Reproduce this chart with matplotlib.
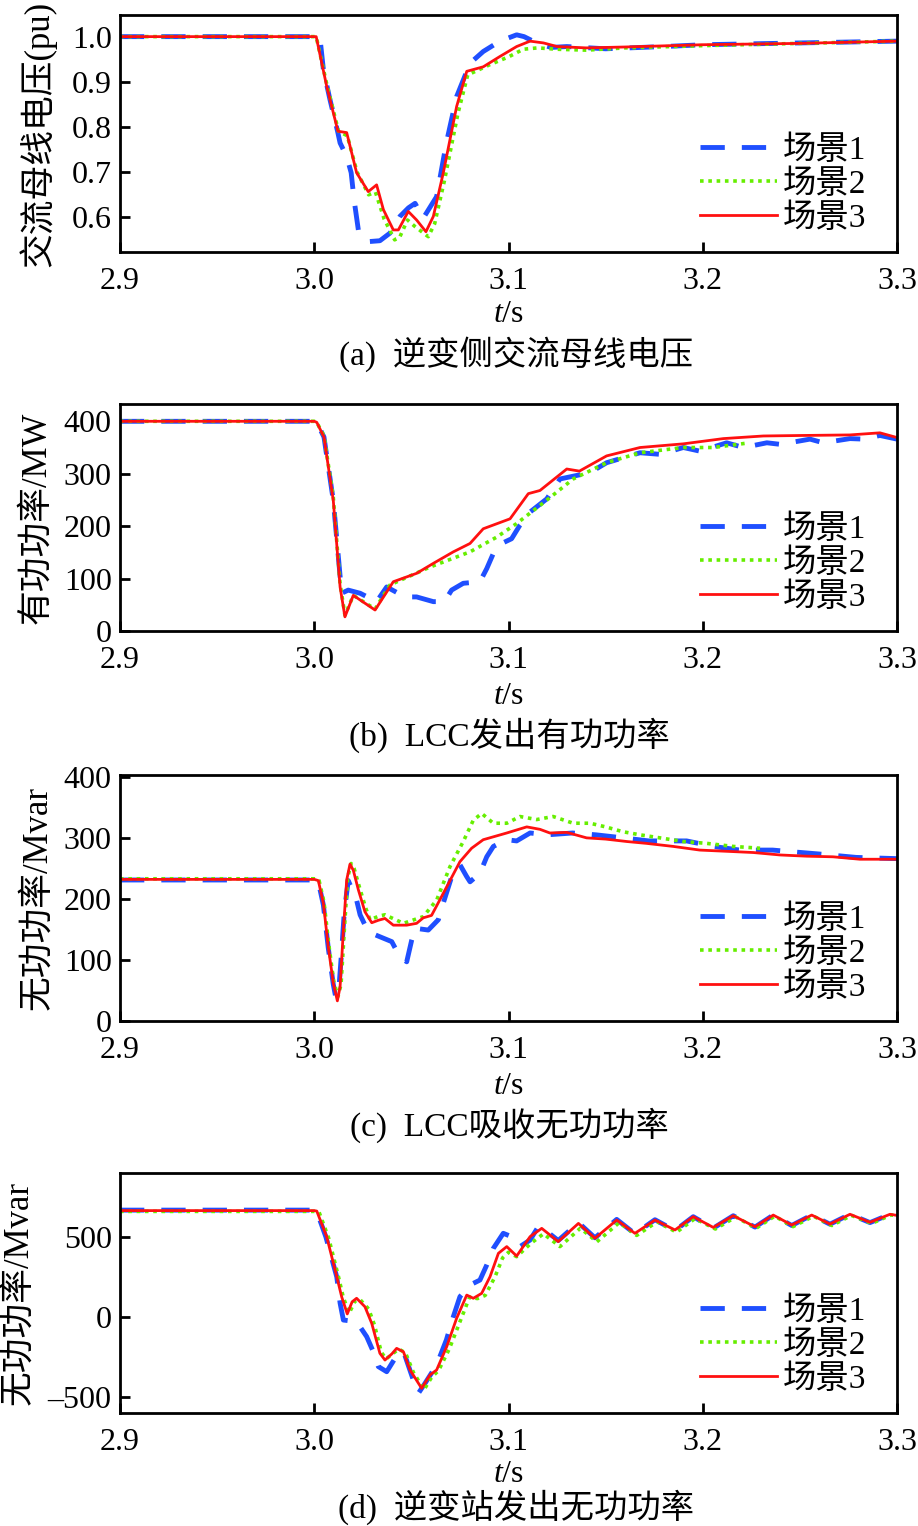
import matplotlib
matplotlib.use("Agg")
import matplotlib.pyplot as plt
from matplotlib.ticker import FormatStrFormatter, FuncFormatter

plt.rcParams['font.family'] = ['Liberation Serif', 'Noto Sans CJK SC']
plt.rcParams['mathtext.fontset'] = 'custom'
plt.rcParams['mathtext.it'] = 'Liberation Serif:italic'
plt.rcParams['mathtext.rm'] = 'Liberation Serif'

# ---- data (time in s) ----
labels = ['场景1', '场景2', '场景3']

# (a) AC bus voltage, pu
a_t1 = [2.9, 3.0, 3.003, 3.0047, 3.0081, 3.012, 3.0133, 3.0167, 3.019, 3.0205, 3.0227, 3.0278, 3.0338, 3.039,
        3.0441, 3.0485, 3.0519, 3.0561, 3.063, 3.068, 3.0733, 3.0802, 3.087, 3.0956, 3.1042, 3.108, 3.115,
        3.122, 3.13, 3.15, 3.18, 3.2, 3.25, 3.3]
a_v1 = [1.0, 1.0, 0.995, 0.927, 0.86, 0.79, 0.764, 0.734, 0.698, 0.638, 0.571, 0.545, 0.547, 0.564,
        0.601, 0.62, 0.630, 0.597, 0.645, 0.764, 0.867, 0.941, 0.967, 0.990, 1.004, 1.0, 0.985,
        0.976, 0.978, 0.973, 0.978, 0.982, 0.986, 0.99]
a_t2 = [2.9, 3.001, 3.0064, 3.009, 3.0125, 3.017, 3.022, 3.028, 3.0315, 3.036, 3.0414, 3.044, 3.048, 3.052,
        3.0587, 3.062, 3.067, 3.074, 3.079, 3.0905, 3.1, 3.1076, 3.115, 3.125, 3.14, 3.16, 3.2, 3.25, 3.3]
a_v2 = [1.0, 1.0, 0.895, 0.85, 0.79, 0.78, 0.70, 0.649, 0.655, 0.595, 0.549, 0.555, 0.593, 0.578,
        0.556, 0.585, 0.68, 0.83, 0.915, 0.938, 0.955, 0.972, 0.975, 0.972, 0.97, 0.975, 0.98, 0.985, 0.99]
a_t3 = [2.9, 3.001, 3.0064, 3.009, 3.0122, 3.0167, 3.0218, 3.0278, 3.0321, 3.0356, 3.0407, 3.0433, 3.0484,
        3.0527, 3.0575, 3.0613, 3.0664, 3.0733, 3.0785, 3.087, 3.0956, 3.1042, 3.1111, 3.118, 3.125, 3.14,
        3.16, 3.2, 3.25, 3.3]
a_v3 = [1.0, 1.0, 0.89, 0.845, 0.79, 0.787, 0.698, 0.656, 0.671, 0.616, 0.571, 0.571, 0.612,
        0.593, 0.567, 0.601, 0.697, 0.845, 0.923, 0.933, 0.956, 0.978, 0.99, 0.986, 0.978, 0.975,
        0.977, 0.982, 0.985, 0.99]

# (b) LCC active power, MW
b_t1 = [2.9, 3.0, 3.0013, 3.005, 3.0098, 3.0141, 3.0175, 3.0236, 3.0321, 3.0373, 3.0467, 3.0527, 3.0613,
        3.067, 3.0707, 3.0767, 3.0853, 3.0888, 3.0922, 3.0965, 3.1016, 3.1059, 3.1111, 3.1197, 3.1265,
        3.1419, 3.1505, 3.1677, 3.178, 3.19, 3.1986, 3.2123, 3.2209, 3.233, 3.24, 3.2552, 3.262, 3.2758,
        3.283, 3.2912, 3.3]
b_v1 = [400, 400, 398, 370, 249, 72, 78, 72, 56, 84, 65, 65, 56,
        56, 78, 91, 94, 119, 148, 167, 176, 202, 227, 252, 290,
        302, 321, 340, 337, 350, 343, 359, 350, 359, 356, 366, 359, 367,
        366, 373, 366]
b_t2 = [2.9, 3.0, 3.0013, 3.005, 3.0098, 3.0133, 3.0158, 3.0201, 3.0313, 3.039, 3.0596, 3.0802, 3.0939,
        3.1042, 3.1205, 3.1333, 3.1505, 3.1677, 3.19, 3.2054, 3.222]
b_v2 = [400, 400, 398, 372, 255, 90, 30, 68, 42, 88, 122, 151, 179,
        205, 252, 290, 321, 340, 350, 350, 358]
b_t3 = [2.9, 3.0, 3.0013, 3.005, 3.0098, 3.0133, 3.0158, 3.0201, 3.0313, 3.0407, 3.0527, 3.0613, 3.0716,
        3.0802, 3.087, 3.1008, 3.1102, 3.1162, 3.13, 3.1365, 3.1505, 3.1677, 3.19, 3.2106, 3.2312, 3.2518,
        3.2757, 3.2912, 3.3]
b_v3 = [400, 400, 398, 370, 249, 84, 27, 68, 40, 94, 110, 129, 151,
        167, 195, 214, 262, 268, 309, 305, 334, 350, 357, 367, 372, 373,
        374, 378, 369]

# (c) LCC reactive power absorbed, Mvar
c_t1 = [2.9, 3.0, 3.0021, 3.0047, 3.0072, 3.0098, 3.011, 3.0125, 3.014, 3.0155, 3.0175, 3.0193, 3.0218,
        3.0236, 3.0278, 3.0338, 3.0399, 3.0441, 3.0476, 3.0502, 3.0519, 3.0587, 3.0639, 3.0664, 3.0708,
        3.075, 3.0784, 3.0802, 3.0853, 3.0888, 3.0922, 3.0991, 3.1042, 3.1111, 3.12, 3.133, 3.145, 3.159,
        3.1722, 3.1917, 3.2054, 3.2191, 3.236, 3.2432, 3.262, 3.279, 3.3]
c_v1 = [231, 231, 228, 190, 120, 60, 40, 45, 110, 180, 230, 217, 198,
        174, 146, 138, 130, 105, 97, 133, 152, 149, 166, 193, 237,
        256, 237, 228, 242, 269, 286, 297, 295, 308, 305, 308, 305, 300,
        295, 295, 286, 280, 280, 278, 273, 268, 266]
c_t2 = [2.9, 3.0, 3.0025, 3.005, 3.0075, 3.01, 3.0122, 3.0138, 3.0155, 3.0172, 3.019, 3.0205, 3.023,
        3.0265, 3.0287, 3.0335, 3.0364, 3.0459, 3.0561, 3.063, 3.0699, 3.0767, 3.0819, 3.0862, 3.0922,
        3.0991, 3.1059, 3.1145, 3.123, 3.1333, 3.142, 3.15, 3.159, 3.1677, 3.178, 3.19, 3.202, 3.2157, 3.2295]
c_v2 = [233, 233, 230, 195, 125, 65, 40, 60, 150, 235, 258, 250, 222,
        185, 166, 172, 174, 160, 171, 198, 253, 294, 329, 340, 324,
        324, 335, 330, 335, 324, 324, 318, 310, 305, 300, 294, 291, 286, 283]
c_t3 = [2.9, 3.0, 3.0021, 3.0047, 3.0072, 3.0098, 3.0119, 3.0133, 3.015, 3.0167, 3.0184, 3.0201, 3.0227,
        3.0261, 3.0296, 3.033, 3.0364, 3.0407, 3.0476, 3.0527, 3.0561, 3.0604, 3.0664, 3.075, 3.081,
        3.087, 3.0991, 3.1094, 3.1162, 3.1213, 3.13, 3.1402, 3.15, 3.161, 3.171, 3.1848, 3.1985, 3.2123,
        3.226, 3.2398, 3.2535, 3.267, 3.2809, 3.3]
c_v3 = [232, 232, 230, 193, 122, 62, 33, 56, 149, 231, 257, 247, 215,
        179, 161, 165, 168, 157, 157, 160, 169, 173, 209, 261, 283,
        297, 308, 318, 314, 308, 309, 300, 298, 294, 291, 286, 280, 278,
        276, 272, 270, 269, 265, 265]

# (d) inverter station reactive power output, Mvar
d_t1 = [2.9, 3.0, 3.0013, 3.006, 3.0116, 3.0133, 3.015, 3.0218, 3.027, 3.0304, 3.033, 3.0373, 3.0416,
        3.046, 3.051, 3.0536, 3.057, 3.063, 3.068, 3.0716, 3.075, 3.0802, 3.0853, 3.0888, 3.0922, 3.0973,
        3.1016, 3.1059, 3.1111, 3.1153, 3.1171, 3.1256, 3.136, 3.1445, 3.1557, 3.1651, 3.1754, 3.1857,
        3.1951, 3.2054, 3.2157, 3.2269, 3.2363, 3.2458, 3.2561, 3.2655, 3.2758, 3.2861, 3.2964, 3.3]
d_v1 = [668, 668, 660, 500, 250, 87, -19, -29, -123, -217, -310, -342, -258,
        -217, -394, -477, -415, -300, -144, 2, 127, 200, 231, 325, 429, 523,
        502, 440, 481, 564, 560, 478, 590, 495, 610, 520, 608, 540,
        627, 555, 633, 562, 637, 572, 637, 580, 642, 590, 642, 632]
d_t2 = [2.9, 3.0, 3.0025, 3.0075, 3.0125, 3.015, 3.018, 3.021, 3.0235, 3.028, 3.031, 3.0345, 3.037, 3.0435,
        3.047, 3.051, 3.0565, 3.0605, 3.064, 3.0695, 3.075, 3.08, 3.084, 3.088, 3.093, 3.097, 3.1, 3.1042,
        3.1115, 3.118, 3.1265, 3.137, 3.1455, 3.157, 3.166, 3.1765, 3.1865, 3.196, 3.2065, 3.217, 3.2275,
        3.237, 3.2465, 3.257, 3.2665, 3.2765, 3.287, 3.297, 3.3]
d_v2 = [660, 660, 655, 490, 250, 120, 25, 100, 110, 50, -50, -220, -262, -200,
        -225, -345, -455, -375, -335, -200, -30, 125, 115, 135, 250, 370, 405, 377,
        460, 520, 440, 555, 470, 590, 510, 595, 530, 615, 550, 625, 555,
        630, 565, 630, 572, 635, 585, 638, 632]
d_t3 = [2.9, 3.0, 3.0013, 3.0064, 3.0116, 3.0141, 3.017, 3.0195, 3.0218, 3.0261, 3.0296, 3.0338, 3.0364,
        3.04, 3.0424, 3.0459, 3.0493, 3.0553, 3.0596, 3.063, 3.0682, 3.0733, 3.0785, 3.0819, 3.0862, 3.0905,
        3.0948, 3.0991, 3.1042, 3.1111, 3.1171, 3.1256, 3.136, 3.1445, 3.1557, 3.1651, 3.1754, 3.1857,
        3.1951, 3.2054, 3.2157, 3.2269, 3.2363, 3.2458, 3.2561, 3.2655, 3.2758, 3.2861, 3.2964, 3.3]
d_v3 = [665, 665, 662, 502, 252, 127, 19, 95, 117, 64, -40, -227, -269,
        -230, -196, -217, -331, -446, -362, -331, -185, -8, 137, 117, 148, 252,
        398, 440, 381, 502, 554, 471, 585, 492, 606, 523, 606, 544,
        627, 560, 633, 564, 637, 575, 637, 581, 642, 592, 642, 635]

ylabels = ['交流母线电压(pu)', '有功功率/MW', '无功功率/Mvar', '无功功率/Mvar']
captions = ['(a)  逆变侧交流母线电压', '(b)  LCC发出有功功率', '(c)  LCC吸收无功功率', '(d)  逆变站发出无功功率']
yticks = [[0.6, 0.7, 0.8, 0.9, 1.0], [0, 100, 200, 300, 400], [0, 100, 200, 300, 400], [-500, 0, 500]]
ylims = [(0.522, 1.048), (0, 433), (0, 403), (-600, 900)]
xticks = [2.9, 3.0, 3.1, 3.2, 3.3]

panels = [
    [(a_t1, a_v1), (a_t2, a_v2), (a_t3, a_v3)],
    [(b_t1, b_v1), (b_t2, b_v2), (b_t3, b_v3)],
    [(c_t1, c_v1), (c_t2, c_v2), (c_t3, c_v3)],
    [(d_t1, d_v1), (d_t2, d_v2), (d_t3, d_v3)],
]

# ---- layout (pixels of the 918x1526 image) ----
W, H = 918, 1526
ax_left, ax_right = 120, 897
ax_tops = [15, 404, 775, 1173]
ax_bots = [252, 631, 1021, 1413]
label_x = [37, 37, 38, 19]
xlabel_y = [314, 696, 1086, 1474]
caption_y = [354, 735, 1125, 1507]
caption_x = [516, 509, 509, 516]


def yfmt(i):
    if i == 0:
        return FormatStrFormatter('%.1f')
    # long dash for negative numbers, as in the original
    return FuncFormatter(lambda v, p: ('\u2013%d' % -v) if v < 0 else '%d' % v)


colors = ['#1f4fff', '#66ee00', '#ff1010']
styles = [dict(lw=3.5, dashes=(5, 3.5)), dict(lw=2.6, dashes=(1.0, 1.3)), dict(lw=2.0, ls='-')]

fig = plt.figure(figsize=(W / 100, H / 100), dpi=100)

for i in range(4):
    ax = fig.add_axes([ax_left / W, 1 - ax_bots[i] / H,
                       (ax_right - ax_left) / W, (ax_bots[i] - ax_tops[i]) / H])
    for (t, v), c, st, lab in zip(panels[i], colors, styles, labels):
        ax.plot(t, v, color=c, label=lab, **st)
    ax.set_xlim(2.9, 3.3)
    ax.set_ylim(*ylims[i])
    ax.set_xticks(xticks)
    ax.set_yticks(yticks[i])
    ax.xaxis.set_major_formatter(FormatStrFormatter('%.1f'))
    ax.yaxis.set_major_formatter(yfmt(i))
    ax.tick_params(direction='in', length=7, width=2, labelsize=23)
    ax.tick_params(axis='x', pad=11)
    ax.tick_params(axis='y', pad=6)
    for s in ax.spines.values():
        s.set_linewidth(2)
    ax.legend(loc='lower right', bbox_to_anchor=(1 - 12 / 777, 0), frameon=False, fontsize=24,
              handlelength=2.3, handletextpad=0.2, labelspacing=0.1, borderaxespad=0.15)
    fig.text(label_x[i] / W, 1 - (ax_tops[i] + ax_bots[i]) / 2 / H, ylabels[i],
             rotation=90, ha='center', va='center', fontsize=25)
    fig.text((ax_left + ax_right) / 2 / W, 1 - xlabel_y[i] / H, r'$t$/s',
             ha='center', va='center', fontsize=23)
    fig.text(caption_x[i] / W, 1 - caption_y[i] / H, captions[i],
             ha='center', va='center', fontsize=24)

fig.savefig('out.png', dpi=100)
